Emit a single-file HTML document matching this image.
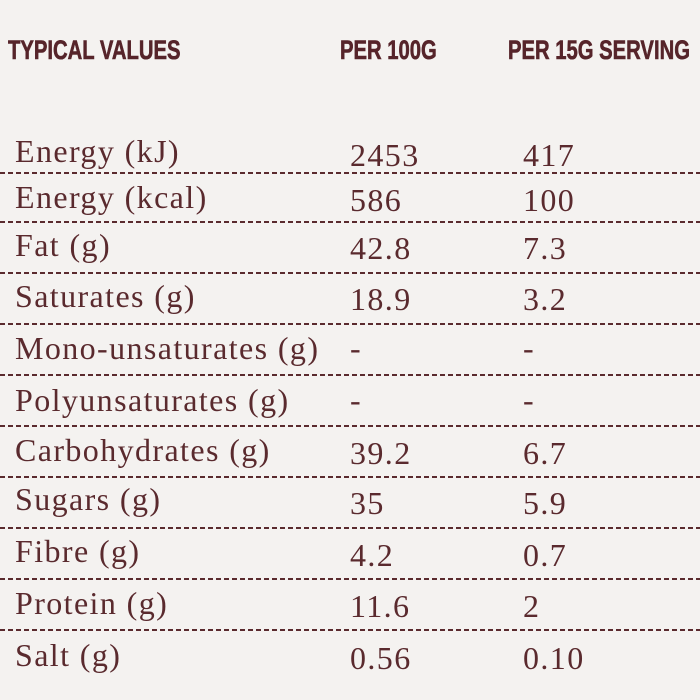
<!DOCTYPE html>
<html><head><style>
html,body{margin:0;padding:0}
body{width:700px;height:700px;background:#f4f2f0;position:relative;overflow:hidden;color:#5a2a2e}
.h{position:absolute;top:35px;font-family:"Liberation Sans",sans-serif;font-weight:bold;font-size:27px;transform-origin:left top;transform:scaleX(0.75);line-height:30px;white-space:nowrap;color:#56242a;-webkit-text-stroke:0.6px #56242a}
.t{position:absolute;font-family:"Liberation Serif",serif;font-size:32px;letter-spacing:1.4px;line-height:36px;white-space:nowrap}
.l{position:absolute;left:0;width:700px;height:2px;background:repeating-linear-gradient(90deg,#5a2a2e 0 5px,transparent 5px 8px)}
</style></head><body>
<div class="h" style="left:8px">TYPICAL VALUES</div>
<div class="h" style="left:340px">PER 100G</div>
<div class="h" style="left:508px">PER 15G SERVING</div>

<div class="t" style="left:15px;top:133px">Energy (kJ)</div><div class="t" style="left:350px;top:137px">2453</div><div class="t" style="left:523px;top:137px">417</div>
<div class="l" style="top:172px"></div>
<div class="t" style="left:15px;top:179px">Energy (kcal)</div><div class="t" style="left:350px;top:182px">586</div><div class="t" style="left:523px;top:182px">100</div>
<div class="l" style="top:221px"></div>
<div class="t" style="left:15px;top:227px">Fat (g)</div><div class="t" style="left:350px;top:230px">42.8</div><div class="t" style="left:523px;top:230px">7.3</div>
<div class="l" style="top:272px"></div>
<div class="t" style="left:15px;top:278px">Saturates (g)</div><div class="t" style="left:350px;top:281px">18.9</div><div class="t" style="left:523px;top:281px">3.2</div>
<div class="l" style="top:323px"></div>
<div class="t" style="left:15px;top:330px">Mono-unsaturates (g)</div><div class="t" style="left:350px;top:330px">-</div><div class="t" style="left:523px;top:330px">-</div>
<div class="l" style="top:374px"></div>
<div class="t" style="left:15px;top:382px">Polyunsaturates (g)</div><div class="t" style="left:350px;top:382px">-</div><div class="t" style="left:523px;top:382px">-</div>
<div class="l" style="top:425px"></div>
<div class="t" style="left:15px;top:432px">Carbohydrates (g)</div><div class="t" style="left:350px;top:435px">39.2</div><div class="t" style="left:523px;top:435px">6.7</div>
<div class="l" style="top:476px"></div>
<div class="t" style="left:15px;top:481px">Sugars (g)</div><div class="t" style="left:350px;top:485px">35</div><div class="t" style="left:523px;top:485px">5.9</div>
<div class="l" style="top:527px"></div>
<div class="t" style="left:15px;top:533px">Fibre (g)</div><div class="t" style="left:350px;top:537px">4.2</div><div class="t" style="left:523px;top:537px">0.7</div>
<div class="l" style="top:578px"></div>
<div class="t" style="left:15px;top:585px">Protein (g)</div><div class="t" style="left:350px;top:588px">11.6</div><div class="t" style="left:523px;top:588px">2</div>
<div class="l" style="top:629px"></div>
<div class="t" style="left:15px;top:637px">Salt (g)</div><div class="t" style="left:350px;top:640px">0.56</div><div class="t" style="left:523px;top:640px">0.10</div>
</body></html>
